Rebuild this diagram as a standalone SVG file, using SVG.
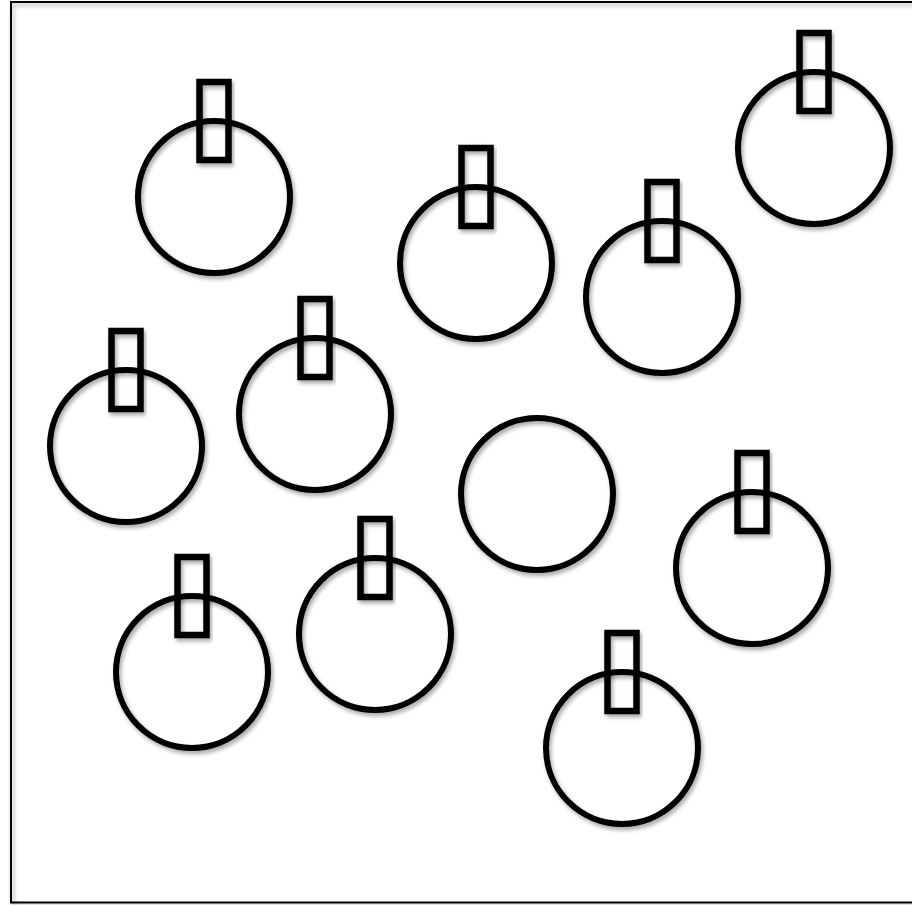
<svg xmlns="http://www.w3.org/2000/svg" width="912" height="905" viewBox="0 0 912 905">
<defs>
<filter id="sh" x="-20%" y="-20%" width="140%" height="140%">
<feDropShadow dx="2" dy="3" stdDeviation="2" flood-color="#000" flood-opacity="0.35"/>
</filter>
</defs>
<style>
.c{fill:none;stroke:#000;stroke-width:6;filter:url(#sh)}
.t{fill:none;stroke:#000;stroke-width:6.5;filter:url(#sh)}
</style>
<rect x="0" y="0" width="912" height="905" fill="#fff"/>
<rect x="11" y="2" width="910" height="900.5" fill="none" stroke="#000" stroke-width="2" filter="url(#sh)"/>
<g id="n1"><circle class="c" cx="214" cy="197" r="76"/><rect class="t" x="199.5" y="82" width="29" height="78"/></g>
<g id="n2"><circle class="c" cx="476" cy="263" r="76"/><rect class="t" x="461.5" y="148" width="29" height="78"/></g>
<g id="n3"><circle class="c" cx="662" cy="297" r="76"/><rect class="t" x="647.5" y="182" width="29" height="78"/></g>
<g id="n4"><circle class="c" cx="814" cy="148" r="76"/><rect class="t" x="799.5" y="33" width="29" height="78"/></g>
<g id="n5"><circle class="c" cx="126" cy="446" r="76"/><rect class="t" x="111.5" y="331" width="29" height="78"/></g>
<g id="n6"><circle class="c" cx="315" cy="414" r="76"/><rect class="t" x="300.5" y="299" width="29" height="78"/></g>
<g id="n7"><circle class="c" cx="537" cy="494" r="76"/></g>
<g id="n8"><circle class="c" cx="752" cy="568" r="76"/><rect class="t" x="737.5" y="453" width="29" height="78"/></g>
<g id="n9"><circle class="c" cx="192" cy="672" r="76"/><rect class="t" x="177.5" y="557" width="29" height="78"/></g>
<g id="n10"><circle class="c" cx="375" cy="634" r="76"/><rect class="t" x="360.5" y="519" width="29" height="78"/></g>
<g id="n11"><circle class="c" cx="622" cy="748" r="76"/><rect class="t" x="607.5" y="633" width="29" height="78"/></g>
</svg>
